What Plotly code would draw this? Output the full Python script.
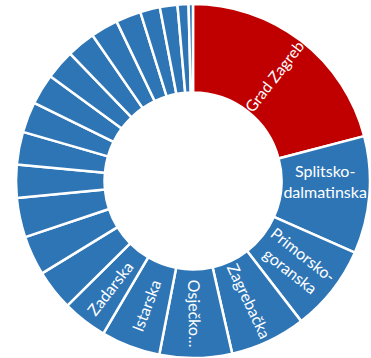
import plotly.graph_objects as go

# Data (share in %, sorted descending as in the reference)
counties = [
    "Grad Zagreb", "Splitsko-dalmatinska", "Primorsko-goranska", "Zagrebačka",
    "Osječko-baranjska", "Istarska", "Zadarska", "Dubrovačko-neretvanska",
    "Varaždinska", "Sisačko-moslavačka", "Brodsko-posavska", "Šibensko-kninska",
    "Karlovačka", "Vukovarsko-srijemska", "Međimurska", "Koprivničko-križevačka",
    "Krapinsko-zagorska", "Bjelovarsko-bilogorska", "Virovitičko-podravska",
    "Požeško-slavonska", "Ličko-senjska", "Ostalo",
]
shares = [20.9, 10.7, 7.9, 6.9, 6.6, 5.4, 4.1, 3.7, 3.6, 3.6, 3.0, 3.0,
          2.8, 2.8, 2.7, 2.6, 2.5, 2.3, 1.8, 1.6, 1.0, 0.4]
# labels as displayed inside the slices (small slices have no visible label)
slice_text = ["Grad Zagreb", "Splitsko-<br>dalmatinska", "Primorsko-<br>goranska",
              "Zagrebačka", "Osječko...", "Istarska", "Zadarska"] + [""] * 15

highlight = "Grad Zagreb"
RED = "#C00000"
BLUE = "#2E75B6"
colors = [RED if c == highlight else BLUE for c in counties]

W, H = 371, 358
cx, cy, r = 193, 181, 177  # pixel centre (from top) and radius

fig = go.Figure(go.Pie(
    labels=counties,
    values=shares,
    text=slice_text,
    textinfo="text",
    hoverinfo="label+percent",
    sort=False,
    direction="clockwise",
    rotation=0,
    hole=0.5,
    marker=dict(colors=colors, line=dict(color="white", width=2.5)),
    textposition="inside",
    insidetextorientation="radial",
    textfont=dict(family="Lato, Open Sans, sans-serif", size=16, color="white"),
    domain=dict(x=[(cx - r) / W, (cx + r) / W],
                y=[(H - cy - r) / H, (H - cy + r) / H]),
    showlegend=False,
))
fig.update_layout(
    width=W, height=H,
    margin=dict(l=0, r=0, t=0, b=0),
    paper_bgcolor="white",
)
fig.write_html("out.html")
